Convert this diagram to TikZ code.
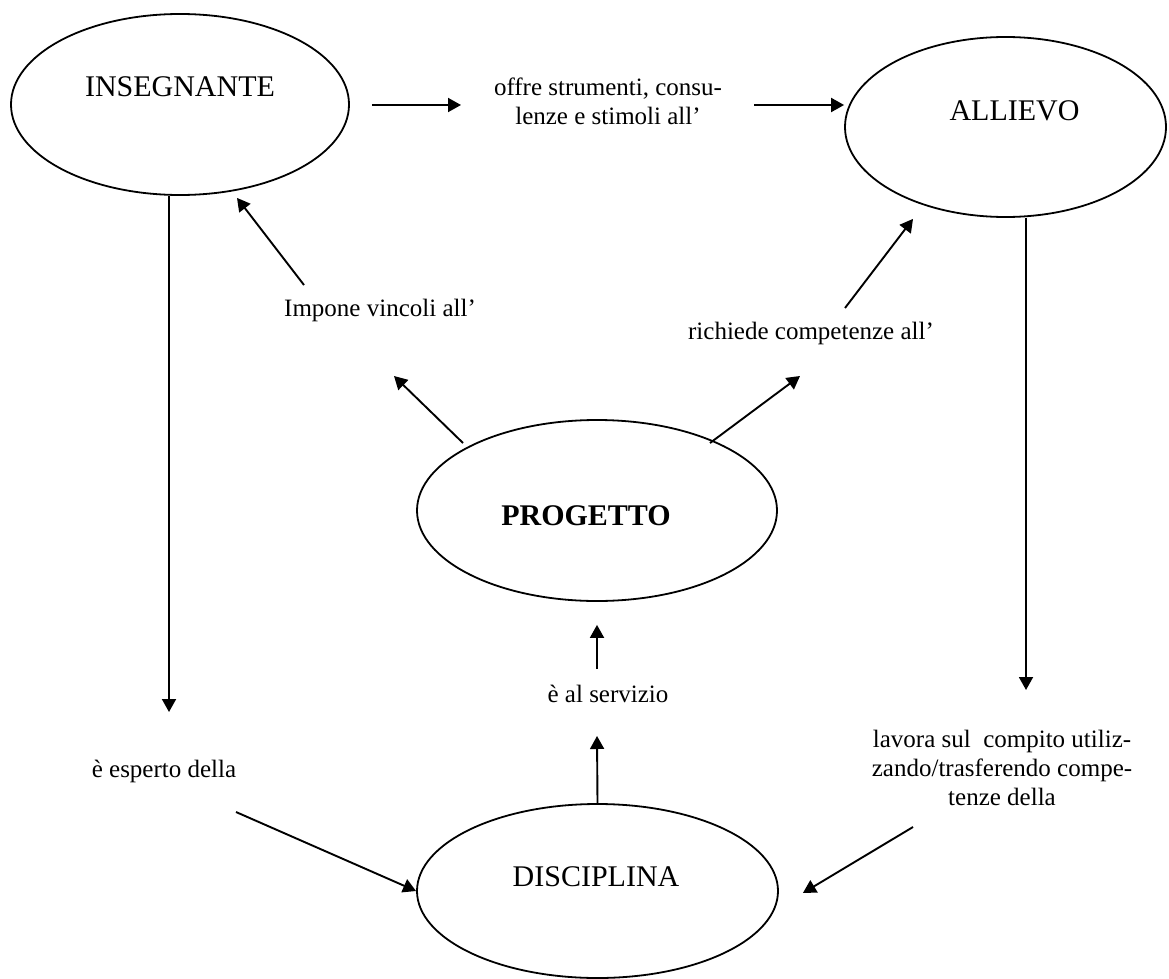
\documentclass[tikz,border=0pt]{standalone}
\usepackage{fontspec}
\setmainfont{Liberation Serif}
\usetikzlibrary{arrows.meta,calc,shapes.geometric}
\begin{document}
\begin{tikzpicture}[x=1pt,y=-1pt,
  oval/.style={ellipse,draw,line width=1.8pt,inner sep=0pt},
  bigtxt/.style={font=\fontsize{30}{34}\selectfont,inner sep=0pt},
  lbl/.style={font=\fontsize{25}{29}\selectfont,inner sep=0pt,align=center},
  arr/.style={line width=1.9pt,-{Triangle[length=13pt,width=14pt]}}]
\useasboundingbox (0,0) rectangle (1169,979);
% ellipses
\node[oval,minimum width=338pt,minimum height=181pt,
  label={[bigtxt,yshift=17.5pt]center:INSEGNANTE}] (ins) at (180,104.5) {};
\node[oval,minimum width=321pt,minimum height=180pt,
  label={[bigtxt,xshift=9pt,yshift=16pt]center:ALLIEVO}] (all) at (1005.5,127) {};
\node[oval,minimum width=360pt,minimum height=181pt,
  label={[bigtxt,font=\fontsize{30}{34}\selectfont\bfseries,xshift=-11pt,yshift=-5.5pt]center:PROGETTO}] (prog) at (597,510.5) {};
\node[oval,minimum width=361pt,minimum height=174pt,
  label={[bigtxt,xshift=-1.5pt,yshift=14pt]center:DISCIPLINA}] (disc) at (597.5,891) {};
% labels
\node[lbl] (offre) at (608,101) {offre strumenti, consu-\\lenze e stimoli all’};
\node[lbl] (imp) at (380,310) {Impone vincoli all’};
\node[lbl] (ric) at (811,333) {richiede competenze all’};
\node[lbl] (serv) at (608,694) {è al servizio};
\node[lbl] (esp) at (164,771) {è esperto della};
\node[lbl] (lav) at (1002,768) {lavora sul\ \ compito utiliz-\\zando/trasferendo compe-\\tenze della};
% connectors
\draw[arr] ($(ins.east)+(22,0.5)$) -- ($(offre)+(-147,4)$);
\draw[arr] ($(offre)+(146,4)$) -- ($(all.west)+(0,-22)$);
\draw[arr] ($(ins.south)+(-11,0)$) -- ($(esp)+(5,-59)$);
\draw[arr] ($(esp)+(72,41)$) -- (disc.west);
\draw[arr] ($(imp)+(-76,-25)$) -- ($(ins.south)+(57,2)$);
\draw[arr] ($(prog)+(-134,-67.5)$) -- ($(imp)+(14,66)$);
\draw[arr] ($(prog)+(113,-67.5)$) -- ($(ric)+(-11,43)$);
\draw[arr] ($(ric)+(34,-25)$) -- ($(all.south)+(-92.5,1)$);
\draw[arr] ($(all.south)+(20.5,0)$) -- ($(lav)+(24,-78)$);
\draw[arr] ($(lav)+(-89,59)$) -- ($(disc.east)+(24,2)$);
\draw[arr] ($(serv)+(-11,-25)$) -- ($(prog.south)+(0,23)$);
\draw[arr] (disc.north) -- ($(serv)+(-11,42)$);
\end{tikzpicture}
\end{document}
